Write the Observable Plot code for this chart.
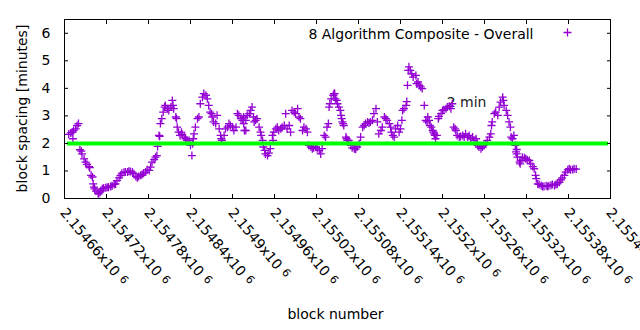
<!DOCTYPE html>
<html><head><meta charset="utf-8">
<script src="https://cdn.jsdelivr.net/npm/d3@7"></script>
<script src="https://cdn.jsdelivr.net/npm/@observablehq/plot@0.6"></script>
<style>body{margin:0;background:#fff}</style>
</head><body><div id="chart"></div>
<script>
const blocks = [
2154666,2154669,2154671,2154672,2154673,2154676,2154678,2154680,2154682,2154684,2154685,2154688,2154690,2154692,2154695,2154696,2154698,2154700,2154701,2154702,2154703,2154705,2154708,2154709,2154711,2154712,2154714,2154716,2154719,2154721,2154723,2154726,2154728,2154731,2154733,2154735,2154738,2154740,2154742,2154745,2154747,2154750,2154752,2154754,2154757,2154759,2154762,2154764,2154766,2154769,2154771,2154773,2154776,2154778,2154781,2154783,2154785,2154788,2154790,
2154792,2154793,2154795,2154796,2154797,2154799,2154801,2154803,2154804,2154807,2154809,2154812,2154814,2154815,2154816,2154819,2154820,2154821,2154823,2154825,2154827,2154828,2154831,2154833,2154835,2154838,2154840,2154842,2154843,2154844,2154845,2154847,2154850,2154852,2154854,2154857,2154859,2154862,2154864,2154866,2154868,2154870,2154871,2154873,2154876,2154878,2154881,2154883,2154884,2154885,2154888,2154890,2154893,2154895,2154897,2154900,2154902,2154905,2154907,2154909,2154912,2154914,2154916,2154919,
2154916,2154917,2154919,2154921,2154924,2154926,2154928,2154930,2154931,2154933,2154935,2154938,2154940,2154941,2154943,2154944,2154946,2154947,2154950,2154952,2154954,2154957,2154958,2154959,2154962,2154964,2154966,2154969,2154971,2154974,2154976,2154978,2154981,2154983,2154985,2154988,2154990,2154993,2154995,2154997,2155000,2155002,2155005,2155007,2155009,2155012,2155014,2155016,2155019,2155021,2155024,2155026,2155028,2155031,2155033,2155035,2155037,2155038,2155039,2155041,2155044,2155046,
2155045,2155047,2155049,2155050,2155052,2155054,2155055,2155056,2155057,2155058,2155059,2155062,2155063,2155064,2155066,2155069,2155071,2155074,2155076,2155078,2155081,2155083,2155086,2155088,2155090,2155093,2155095,2155097,2155100,2155102,2155105,2155107,2155109,2155112,2155114,2155117,2155119,2155121,2155124,2155126,2155127,2155129,2155131,2155133,2155136,2155138,2155140,2155142,2155143,2155145,2155148,2155149,2155150,2155151,2155152,2155154,2155156,2155158,2155162,2155163,2155165,2155167,2155169,2155171,2155174,2155176,
2155178,2155179,2155181,2155182,2155184,2155186,2155187,2155188,2155189,2155190,2155192,2155194,2155195,2155198,2155200,2155202,2155205,2155207,2155210,2155212,2155214,2155216,2155218,2155219,2155221,2155224,2155226,2155229,2155231,2155233,2155236,2155238,2155240,2155243,2155245,2155248,2155250,2155252,2155255,2155257,2155259,2155262,2155264,2155267,2155269,2155270,2155271,2155274,2155276,2155279,2155281,2155283,2155286,2155287,2155288,2155291,2155293,2155295,2155297,2155298,2155300,2155302,2155304,2155305,
2155306,2155306,2155307,2155310,2155311,2155312,2155314,2155317,2155319,2155321,2155324,2155326,2155329,2155331,2155333,2155334,2155336,2155338,2155341,2155343,2155345,2155348,2155350,2155352,2155355,2155357,2155360,2155362,2155364,2155367,2155369,2155371,2155374,2155376,2155379,2155381,2155383,2155386,2155388,2155391
];
const spacing = [
2.33,2.38,2.41,2.17,2.47,2.53,2.65,2.72,1.77,1.72,1.62,1.44,1.32,1.24,1.16,1.12,0.84,0.78,0.53,0.41,0.35,0.27,0.19,0.17,0.23,0.29,0.35,0.38,0.39,0.41,0.41,0.44,0.46,0.51,0.53,0.65,0.75,0.84,0.92,0.95,0.96,0.96,0.99,0.98,0.96,0.90,0.80,0.75,0.80,0.84,0.87,0.92,0.96,1.04,1.02,1.14,1.32,1.41,1.50,
1.56,1.89,2.29,2.26,2.72,2.90,3.14,3.32,3.38,3.26,3.20,3.32,3.56,3.38,3.26,2.96,2.90,2.59,2.41,2.29,2.41,2.33,2.23,2.17,2.11,2.11,1.93,1.56,1.99,2.17,2.35,2.59,2.90,2.96,3.44,3.68,3.81,3.75,3.62,3.38,3.14,3.08,2.96,2.78,2.72,3.02,2.53,2.29,2.17,2.11,2.29,2.53,2.59,2.72,2.65,2.59,2.47,2.59,3.08,3.02,2.90,2.84,2.72,2.47,
2.96,2.47,2.84,3.02,3.08,3.20,3.32,2.96,2.78,2.84,2.90,2.59,2.41,2.29,2.11,1.87,1.75,1.62,1.56,1.65,1.81,2.29,2.11,2.41,2.53,2.59,2.47,2.53,2.59,2.65,3.08,2.53,2.65,2.41,3.20,3.14,3.08,3.26,2.96,2.90,2.47,2.59,2.53,2.41,1.93,1.87,1.81,1.84,1.87,1.81,1.75,1.62,1.81,2.29,2.23,2.59,2.72,3.32,3.44,3.62,3.75,3.81,
3.81,3.62,3.56,3.44,3.32,3.20,3.02,2.90,2.78,2.72,2.65,2.23,2.17,2.11,2.11,1.93,1.84,1.81,1.79,1.87,1.99,2.23,2.59,2.65,2.72,2.78,2.74,2.78,2.84,3.08,3.26,2.78,2.35,2.47,2.59,2.96,2.90,2.84,2.72,2.59,2.41,2.29,2.23,2.53,2.65,2.41,2.53,2.84,3.20,3.26,3.38,3.52,4.11,4.65,4.78,4.65,4.53,4.41,4.47,4.17,4.23,4.11,4.05,3.99,3.38,2.84,
2.78,2.96,2.84,2.65,2.59,2.47,2.41,2.35,2.29,2.17,2.29,2.90,2.98,3.08,3.20,3.22,3.26,3.32,3.35,3.26,3.44,2.59,2.53,2.47,2.29,2.23,2.25,2.29,2.23,2.35,2.23,2.29,2.17,2.23,2.11,2.17,1.93,1.87,1.81,1.87,1.93,1.99,2.11,2.23,2.35,2.65,2.78,3.08,3.14,3.02,3.32,3.50,3.68,3.56,3.38,3.20,3.02,2.78,2.59,2.23,2.17,2.29,1.93,1.69,
1.78,1.62,1.50,1.32,1.26,1.38,1.50,1.48,1.44,1.41,1.38,1.26,1.16,1.08,0.84,0.72,0.53,0.51,0.47,0.44,0.44,0.46,0.44,0.46,0.48,0.51,0.47,0.51,0.53,0.59,0.68,0.75,0.84,0.96,1.04,1.08,1.04,1.05,1.08,1.07
];
const xTicks = [2154660,2154720,2154780,2154840,2154900,2154960,2155020,2155080,2155140,2155200,2155260,2155320,2155380,2155440];
const yTicks = [0,1,2,3,4,5,6];
const targetSpacing = [2];
const seriesLabel = "8 Algorithm Composite - Overall";
const notes = [{block: 2155206, value: 3.5, text: "2 min"}];
const xTitle = "block number";
const yTitle = "block spacing [minutes]";

const W = 640, H = 330, ML = 64, MR = 30, MT = 19, MB = 132;
const data = blocks.map((b, i) => ({block: b, value: spacing[i]}));
const plusSymbol = {draw(ctx) { ctx.moveTo(-4, 0); ctx.lineTo(4, 0); ctx.moveTo(0, -4); ctx.lineTo(0, 4); }};
const mant = v => String(parseFloat((v / 1e6).toPrecision(6))) + "x10";
const purple = "#9400d3";

const chart = Plot.plot({
  width: W, height: H,
  marginLeft: ML, marginRight: MR, marginTop: MT, marginBottom: MB,
  style: {fontFamily: "'DejaVu Sans', sans-serif", fontSize: "14px", background: "#fff", color: "#000"},
  x: {domain: [2154660, 2155440], axis: null},
  y: {domain: [0, 6.5], axis: null},
  marks: [
    Plot.text(notes, {x: "block", y: "value", text: "text", textAnchor: "start", fill: "#222"}),
    Plot.dot(data, {x: "block", y: "value", symbol: plusSymbol, stroke: purple, fill: "none", strokeWidth: 1.3}),
    Plot.ruleY(targetSpacing, {stroke: "#00ff00", strokeWidth: 4, insetLeft: 3, insetRight: 2}),
    Plot.frame({stroke: "#000"}),
    Plot.axisY(yTicks, {anchor: "left", tickSize: -4, tickPadding: 18, label: null}),
    Plot.axisY(yTicks, {anchor: "right", tickSize: -4, tickFormat: () => null, label: null}),
    Plot.axisX(xTicks, {anchor: "bottom", tickSize: -4, tickFormat: () => null, label: null}),
    Plot.axisX(xTicks, {anchor: "top", tickSize: -4, tickFormat: () => null, label: null}),
    Plot.text(xTicks, {x: d => d, frameAnchor: "bottom", rotate: 50, textAnchor: "start", dx: -5, dy: 14.5, text: mant}),
    Plot.text([seriesLabel], {frameAnchor: "top-right", textAnchor: "end", dx: -77, dy: 10}),
    Plot.dot([seriesLabel], {frameAnchor: "top-right", dx: -43, dy: 13, symbol: plusSymbol, stroke: purple, fill: "none", strokeWidth: 1.3}),
    Plot.text([yTitle], {frameAnchor: "left", textAnchor: "middle"}),
    Plot.text([xTitle], {frameAnchor: "bottom", dy: 120, dx: -2})
  ]
});

chart.querySelectorAll("text").forEach(t => {
  if (/x10$/.test(t.textContent) && t.children.length === 0) {
    const ts = document.createElementNS("http://www.w3.org/2000/svg", "tspan");
    ts.setAttribute("dx", "5");
    ts.setAttribute("dy", "-3");
    ts.setAttribute("font-size", "11px");
    ts.textContent = "6";
    t.appendChild(ts);
  }
  if (t.textContent === yTitle) {
    const g = t.parentNode;
    if (g && g.removeAttribute) g.removeAttribute("transform");
    t.setAttribute("transform", `translate(${ML - 46},${(MT + H - MB) / 2}) rotate(-90)`);
    t.setAttribute("text-anchor", "middle");
    t.setAttribute("dy", "0.32em");
  }
});
document.getElementById("chart").appendChild(chart);
</script>
</body></html>
